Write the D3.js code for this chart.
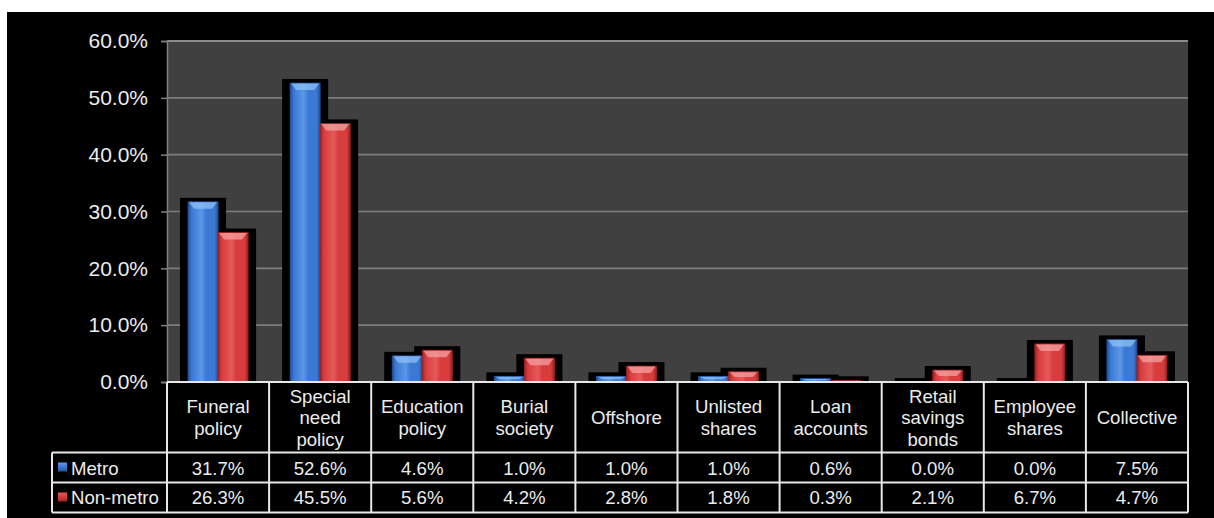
<!DOCTYPE html>
<html>
<head>
<meta charset="utf-8">
<script src="https://cdn.jsdelivr.net/npm/d3@7"></script>
<style>
  html, body { margin: 0; padding: 0; background: #ffffff; }
  svg { display: block; font-family: Arial, "Liberation Sans", sans-serif; }
</style>
</head>
<body>
<svg id="chart" width="1214" height="518"></svg>
<script>
// Investment product holdings, metro vs non-metro households (% of respondents)
const categories = ["Funeral policy", "Special need policy", "Education policy", "Burial society",
  "Offshore", "Unlisted shares", "Loan accounts", "Retail savings bonds", "Employee shares", "Collective"];
const seriesNames = ["Metro", "Non-metro"];
const metro = [31.7, 52.6, 4.6, 1.0, 1.0, 1.0, 0.6, 0.0, 0.0, 7.5];
const nonMetro = [26.3, 45.5, 5.6, 4.2, 2.8, 1.8, 0.3, 2.1, 6.7, 4.7];
const yTicks = [0, 10, 20, 30, 40, 50, 60];

const seriesValues = [metro, nonMetro];
const palette = {
  Metro: { dark: "#24519a", mid: "#3a7ad4", light: "#5b97e6", bevel: "#8fc0f5" },
  "Non-metro": { dark: "#9e2222", mid: "#d73d3d", light: "#e65a5a", bevel: "#f5a0a0" }
};

const svg = d3.select("#chart");
const frame = { left: 7, top: 12 };
const plot = { left: 167, right: 1188, top: 41, bottom: 382 };
const table = { left: 52, headerBottom: 452.5, row1Bottom: 482.5, bottom: 512.5 };
const tableFont = "18.6px";

// Black chart frame
svg.append("rect").attr("x", frame.left).attr("y", frame.top)
  .attr("width", 1214 - frame.left).attr("height", 518 - frame.top).attr("fill", "#000");

// Plot area
svg.append("rect").attr("x", plot.left).attr("y", plot.top)
  .attr("width", plot.right - plot.left).attr("height", plot.bottom - plot.top).attr("fill", "#404040");

const x0 = d3.scaleBand().domain(categories).range([plot.left, plot.right]).padding(0);
const x1 = d3.scaleBand().domain(seriesNames).range([0, x0.bandwidth()]).paddingInner(0).paddingOuter(0.7);
const y = d3.scaleLinear().domain([0, 60]).range([plot.bottom, plot.top]);

// Gridlines
svg.append("g").selectAll("line").data(yTicks.filter(t => t > 0)).join("line")
  .attr("x1", plot.left).attr("x2", plot.right)
  .attr("y1", d => y(d)).attr("y2", d => y(d))
  .attr("stroke", d => d === 60 ? "#8a8a8a" : "#7d7d7d")
  .attr("stroke-width", d => d === 60 ? 2.2 : 1.6);

// Y axis
const yAxis = d3.axisLeft(y).tickValues(yTicks).tickSize(6).tickPadding(13)
  .tickFormat(d => d3.format(".1f")(d) + "%");
const gy = svg.append("g").attr("transform", `translate(${plot.left},0)`).call(yAxis);
gy.select(".domain").attr("stroke", "#808080").attr("stroke-width", 1.5);
gy.selectAll(".tick line").attr("stroke", "#808080").attr("stroke-width", 1.5);
gy.selectAll(".tick text").attr("fill", "#ececec").style("font-size", "21px")
  .style("font-family", "Arial, 'Liberation Sans', sans-serif");

// Gradients for the bevelled bars
const defs = svg.append("defs");
seriesNames.forEach((name, i) => {
  const c = palette[name];
  const g = defs.append("linearGradient").attr("id", "grad" + i)
    .attr("x1", "0%").attr("x2", "100%").attr("y1", "0%").attr("y2", "0%");
  [[0, c.dark], [0.12, c.mid], [0.45, c.light], [0.6, c.mid], [0.88, c.mid], [1, c.dark]]
    .forEach(([o, col]) => g.append("stop").attr("offset", o).attr("stop-color", col));
  const lg = defs.append("linearGradient").attr("id", "leg" + i)
    .attr("x1", "0%").attr("x2", "0%").attr("y1", "0%").attr("y2", "100%");
  [[0, c.light], [0.5, c.mid], [1, c.dark]]
    .forEach(([o, col]) => lg.append("stop").attr("offset", o).attr("stop-color", col));
});

const barData = [];
seriesNames.forEach((name, si) => {
  categories.forEach((cat, ci) => barData.push({ cat, name, si, value: seriesValues[si][ci] }));
});

// Shadows behind every bar
svg.append("g").selectAll("rect").data(barData).join("rect")
  .attr("x", d => x0(d.cat) + x1(d.name) - 8)
  .attr("y", d => y(d.value) - 4)
  .attr("width", x1.bandwidth() + 16)
  .attr("height", d => plot.bottom - y(d.value) + 4)
  .attr("fill", "#000");

// Bars
const bars = svg.append("g").selectAll("g").data(barData).join("g");
bars.append("rect")
  .attr("x", d => x0(d.cat) + x1(d.name))
  .attr("y", d => y(d.value))
  .attr("width", x1.bandwidth())
  .attr("height", d => plot.bottom - y(d.value))
  .attr("fill", d => `url(#grad${d.si})`)
  .attr("stroke", d => palette[d.name].dark).attr("stroke-width", 0.8);
// Top bevel facet
bars.filter(d => plot.bottom - y(d.value) > 3).append("path")
  .attr("d", d => {
    const bx = x0(d.cat) + x1(d.name), w = x1.bandwidth(), t = y(d.value);
    const h = Math.min(7, (plot.bottom - t) / 2);
    return `M${bx + 1},${t + 0.5}L${bx + w - 1},${t + 0.5}L${bx + w - 6},${t + h}L${bx + 6},${t + h}Z`;
  })
  .attr("fill", d => palette[d.name].bevel).attr("opacity", 0.75);

// Data table
const tbl = svg.append("g");
const lineColor = "#e8e8e8";
const colEdges = categories.map(c => x0(c)).concat([plot.right]);
// horizontal rules
[[plot.left, plot.bottom], [table.left, table.headerBottom], [table.left, table.row1Bottom], [table.left, table.bottom]]
  .forEach(([xs, yy]) => tbl.append("line").attr("x1", xs).attr("x2", plot.right)
    .attr("y1", yy).attr("y2", yy).attr("stroke", lineColor).attr("stroke-width", 2));
// vertical rules
colEdges.forEach(xx => tbl.append("line").attr("x1", xx).attr("x2", xx)
  .attr("y1", plot.bottom).attr("y2", table.bottom).attr("stroke", lineColor).attr("stroke-width", 2));
tbl.append("line").attr("x1", table.left).attr("x2", table.left)
  .attr("y1", table.headerBottom).attr("y2", table.bottom).attr("stroke", lineColor).attr("stroke-width", 2);

// Category headers, wrapped to fit the column
const txtColor = "#ececec";
const lineH = 21.5;
categories.forEach(cat => {
  const cx = x0(cat) + x0.bandwidth() / 2;
  const t = tbl.append("text").attr("x", cx).attr("text-anchor", "middle")
    .attr("fill", txtColor).style("font-size", tableFont);
  const words = cat.split(" ");
  const lines = [];
  let cur = "";
  const probe = tbl.append("text").style("font-size", tableFont);
  words.forEach(w => {
    const test = cur ? cur + " " + w : w;
    probe.text(test);
    if (cur && probe.node().getComputedTextLength() > 92) { lines.push(cur); cur = w; }
    else cur = test;
  });
  lines.push(cur);
  probe.remove();
  const first = 424 - (lines.length - 1) * lineH / 2;
  lines.forEach((ln, i) => t.append("tspan").attr("x", cx).attr("y", first + i * lineH).text(ln));
});

// Value rows with legend keys
const rowBaselines = [474.5, 504];
seriesNames.forEach((name, si) => {
  const rowTop = si === 0 ? table.headerBottom : table.row1Bottom;
  tbl.append("rect").attr("x", 58).attr("y", rowTop + 10).attr("width", 9).attr("height", 9)
    .attr("fill", `url(#leg${si})`);
  tbl.append("text").attr("x", 71).attr("y", rowBaselines[si]).attr("fill", txtColor)
    .style("font-size", tableFont).text(name);
  categories.forEach((cat, ci) => {
    tbl.append("text").attr("x", x0(cat) + x0.bandwidth() / 2).attr("y", rowBaselines[si])
      .attr("text-anchor", "middle").attr("fill", txtColor).style("font-size", tableFont)
      .text(d3.format(".1f")(seriesValues[si][ci]) + "%");
  });
});
</script>
</body>
</html>
